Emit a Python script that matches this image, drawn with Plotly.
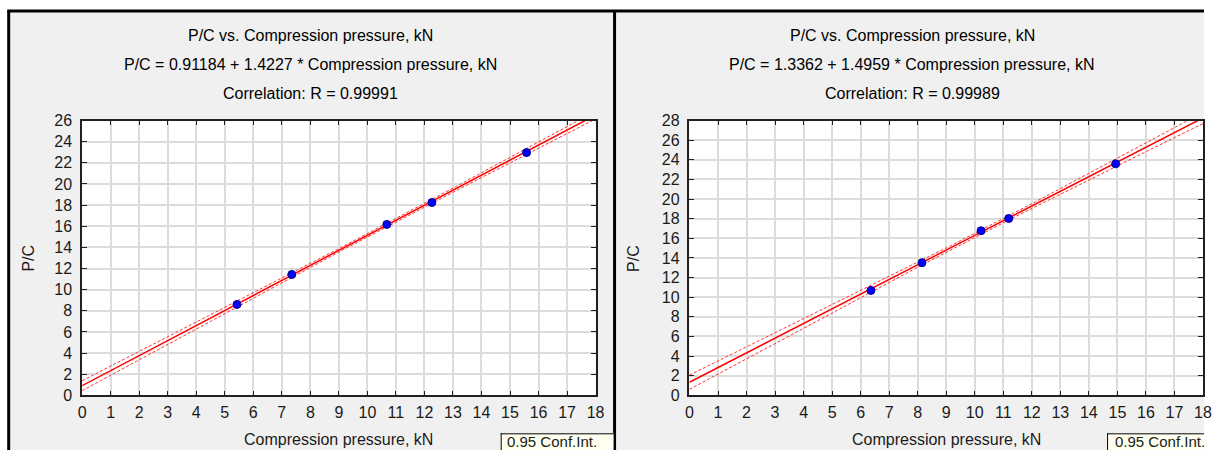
import numpy as np
import plotly.graph_objects as go

W, H = 1213, 459

# ---- data ----
x_left = [5.43, 7.35, 10.68, 12.26, 15.58]
y_left = [8.60, 11.44, 16.17, 18.24, 22.97]
x_right = [6.36, 8.15, 10.22, 11.19, 14.94]
y_right = [10.69, 13.51, 16.77, 18.02, 23.59]

coef_left = (0.91184, 1.4227)
coef_right = (1.3362, 1.4959)

titles_left = ["P/C vs. Compression pressure, kN",
               "P/C = 0.91184 + 1.4227 * Compression pressure, kN",
               "Correlation: R = 0.99991"]
titles_right = ["P/C vs. Compression pressure, kN",
                "P/C = 1.3362 + 1.4959 * Compression pressure, kN",
                "Correlation: R = 0.99989"]
legend_text = "0.95 Conf.Int."

x_ticks = list(range(0, 19))
y_ticks_left = list(range(0, 27, 2))
y_ticks_right = list(range(0, 29, 2))
T_CRIT = 3.182  # t(0.975, 3)

FONT = "Liberation Sans, Arial, sans-serif"

# observed mapping of the photographed page: shot = A + S * layout_px
A_X, S_X = 3.8, 0.9903
A_Y, S_Y = 7.4, 0.9636


def LX(x):
    return (x - A_X) / S_X


def LY(y):
    return (y - A_Y) / S_Y


def px(x):
    return min(max(LX(x) / W, 0.0), 1.0)


def py(y):
    return min(max(1 - LY(y) / H, 0.0), 1.0)


def fit_and_ci(xs, ys, coef):
    xs = np.asarray(xs)
    ys = np.asarray(ys)
    a, b = coef
    n = len(xs)
    resid = ys - (a + b * xs)
    s = np.sqrt(np.sum(resid ** 2) / (n - 2))
    xm = xs.mean()
    sxx = np.sum((xs - xm) ** 2)
    grid = np.linspace(0, 18, 200)
    yhat = a + b * grid
    half = T_CRIT * s * np.sqrt(1.0 / n + (grid - xm) ** 2 / sxx)
    return grid, yhat, yhat - half, yhat + half


fig = go.Figure()

panels = [
    (x_left, y_left, coef_left, "x", "y"),
    (x_right, y_right, coef_right, "x2", "y2"),
]
for xs, ys, coef, xa, ya in panels:
    g, yh, lo, hi = fit_and_ci(xs, ys, coef)
    for band in (lo, hi):
        fig.add_trace(go.Scatter(x=g, y=band, mode="lines", xaxis=xa, yaxis=ya,
                                 line=dict(color="#ff3030", width=1, dash="3px,2px"),
                                 showlegend=False, hoverinfo="skip"))
    fig.add_trace(go.Scatter(x=g, y=yh, mode="lines", xaxis=xa, yaxis=ya,
                             line=dict(color="#ff0000", width=1.5),
                             showlegend=False, hoverinfo="skip"))
    fig.add_trace(go.Scatter(x=xs, y=ys, mode="markers", xaxis=xa, yaxis=ya,
                             marker=dict(color="#0000ff", size=8,
                                         line=dict(color="#00008b", width=1)),
                             showlegend=False))

axis_common = dict(
    showline=True, linecolor="#202020", linewidth=1.5, mirror="ticks",
    ticks="inside", ticklen=5, tickwidth=1, tickcolor="#202020",
    showgrid=True, gridcolor="#dcdcdc", gridwidth=1.5, zeroline=False,
    tickfont=dict(family=FONT, size=16, color="#1a1a1a"),
)

ydom = [py(395), py(120)]
fig.update_layout(
    width=W, height=H,
    margin=dict(l=0, r=0, t=0, b=0),
    paper_bgcolor="white", plot_bgcolor="white",
    showlegend=False,
    xaxis=dict(domain=[px(82), px(596)], range=[0, 18], tickvals=x_ticks,
               anchor="y", ticklabelstandoff=2, **axis_common),
    yaxis=dict(domain=ydom, range=[0, 26], tickvals=y_ticks_left,
               anchor="x", ticklabelstandoff=5, **axis_common),
    xaxis2=dict(domain=[px(690), px(1204)], range=[0, 18], tickvals=x_ticks,
                anchor="y2", ticklabelstandoff=2, **axis_common),
    yaxis2=dict(domain=ydom, range=[0, 28], tickvals=y_ticks_right,
                anchor="x2", ticklabelstandoff=5, **axis_common),
)


def rect(x0, x1, y0, y1, fill, layer="below"):
    return dict(type="rect", xref="paper", yref="paper", layer=layer,
                x0=px(x0), x1=px(x1), y0=py(y1), y1=py(y0),
                fillcolor=fill, line=dict(width=0))


def hline(x0, x1, y, w, layer="below"):
    return dict(type="line", xref="paper", yref="paper", layer=layer,
                x0=px(x0), x1=px(x1), y0=py(y), y1=py(y),
                line=dict(color="black", width=w))


def vline(x, y0, y1, w, layer="below"):
    return dict(type="line", xref="paper", yref="paper", layer=layer,
                x0=px(x), x1=px(x), y0=py(y0), y1=py(y1),
                line=dict(color="black", width=w))


BIG_X, BIG_Y = 1300, 520   # beyond the page edge (clamped to paper)
shapes = [
    rect(8.5, BIG_X, 10.5, BIG_Y, "#f0f0f0"),
    rect(82, 596, 120, 395, "white"),
    rect(690, 1204, 120, 395, "white"),
    hline(7, BIG_X, 10.5, 3),
    vline(8.5, 10.5, BIG_Y, 3),
    vline(615, 10.5, BIG_Y, 3),
    rect(501, 614, 433, BIG_Y, "#fffff0", layer="above"),
    rect(1108, BIG_X, 433, BIG_Y, "#fffff0", layer="above"),
    hline(501, 614, 433.5, 1, layer="above"),
    vline(501.5, 433, BIG_Y, 1, layer="above"),
    hline(1108, BIG_X, 433.5, 1, layer="above"),
    vline(1108.5, 433, BIG_Y, 1, layer="above"),
]
fig.update_layout(shapes=shapes)

annotations = []
for titles, cx in ((titles_left, 311), (titles_right, 913)):
    for i, t in enumerate(titles):
        annotations.append(dict(
            text=t, xref="paper", yref="paper", x=px(cx), y=py(35 + 29 * i),
            xanchor="center", yanchor="middle", showarrow=False,
            font=dict(family=FONT, size=16, color="black")))

for cx, yx in ((339, 28), (947, 634)):
    annotations.append(dict(
        text="Compression pressure, kN", xref="paper", yref="paper",
        x=px(cx), y=py(439), xanchor="center", yanchor="middle", showarrow=False,
        font=dict(family=FONT, size=16, color="#1a1a1a")))
    annotations.append(dict(
        text="P/C", xref="paper", yref="paper", textangle=-90,
        x=px(yx), y=py(258), xanchor="center", yanchor="middle", showarrow=False,
        font=dict(family=FONT, size=16, color="#1a1a1a")))

for lx in (505, 1114):
    annotations.append(dict(
        text=legend_text, xref="paper", yref="paper",
        x=px(lx), y=py(441), xanchor="left", yanchor="middle", showarrow=False,
        font=dict(family=FONT, size=15, color="#1a1a1a")))

fig.update_layout(annotations=annotations)

fig.write_html(
    "out.html",
    config={"displayModeBar": False},
    post_script="document.body.style.margin='0';document.body.style.overflow='hidden';"
                "document.body.style.background='#f0f0f0';",
)
